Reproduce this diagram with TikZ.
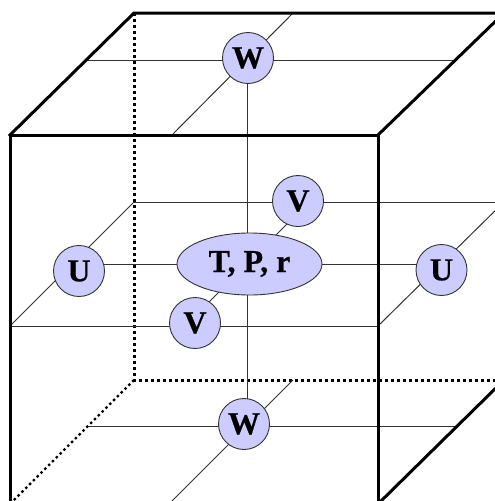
\documentclass[tikz,border=0pt]{standalone}
\usepackage{fontspec}
\setmainfont{Liberation Serif}
\newfontfamily\heavyserif[FakeBold=0.6]{Liberation Serif}
\usetikzlibrary{shapes.geometric}
\definecolor{nodefill}{HTML}{CCCCFF}
\definecolor{edgegray}{HTML}{333333}
\begin{document}
\begin{tikzpicture}[x=1pt,y=-1pt,
  thickedge/.style={line width=3pt,line cap=rect},
  dotedge/.style={line width=3pt,dash pattern=on 3pt off 3pt},
  dotdiag/.style={line width=2.4pt,dash pattern=on 2.4pt off 3pt},
  gridline/.style={line width=1pt,draw=edgegray},
  varnode/.style={circle,draw=edgegray,line width=0.9pt,fill=nodefill,minimum size=51pt,inner sep=0pt,
    font=\heavyserif\fontsize{32}{36}\selectfont\bfseries},
  statenode/.style={ellipse,draw=edgegray,line width=0.9pt,fill=nodefill,minimum width=145pt,minimum height=62pt,inner sep=0pt,
    font=\heavyserif\fontsize{32}{36}\selectfont\bfseries}]
\useasboundingbox (0,0) rectangle (495,501);
\clip (0,0) rectangle (495,501);
% cube corners
\coordinate (FTL) at (10,135);  \coordinate (FTR) at (378,135);
\coordinate (FBL) at (10,504);  \coordinate (FBR) at (378,504);
\coordinate (BTL) at (134,13);  \coordinate (BTR) at (504,13);
\coordinate (BBL) at (134,380); \coordinate (BBR) at (504,380);
% grid coordinates
\coordinate (tl) at (86,60);   \coordinate (tr) at (454,60);
\coordinate (tf) at (172,135); \coordinate (tb) at (293,13);
\coordinate (vt) at (247,58);  \coordinate (vb) at (247,424);
\coordinate (mbl) at (134,202); \coordinate (mbr) at (504,202);
\coordinate (mfl) at (10,326);  \coordinate (mfr) at (378,326);
\coordinate (mhl) at (79,264);  \coordinate (mhr) at (441,264);
\coordinate (mdf) at (195,316); \coordinate (mdb) at (298,213);
\coordinate (bl) at (88,426);   \coordinate (br) at (456,426);
\coordinate (bf) at (170,503);  \coordinate (bb) at (293,380);
% hidden edges
\draw[dotedge] (BTL) -- (BBL) -- (BBR);
\draw[dotdiag] (BBL) -- (FBL);
% grid lines
\draw[gridline] (tl) -- (tr);
\draw[gridline] (tf) -- (tb);
\draw[gridline] (vt) -- (vb);
\draw[gridline] (mbl) -- (mbr);
\draw[gridline] (mfl) -- (mfr);
\draw[gridline] (mfl) -- (mbl);
\draw[gridline] (mfr) -- (mbr);
\draw[gridline] (mhl) -- (mhr);
\draw[gridline] (mdf) -- (mdb);
\draw[gridline] (bl) -- (br);
\draw[gridline] (bf) -- (bb);
% visible edges
\draw[thickedge] (FBL) -- (FTL) -- (FTR) -- (FBR);
\draw[thickedge] (FTL) -- (BTL) -- (BTR);
\draw[thickedge] (FTR) -- (BTR);
\draw[thickedge] (FBR) -- (BBR);
% nodes
\node[varnode] (Wt) at (248,58) {W};
\node[varnode] (Wb) at (244,424) {W};
\node[varnode] (Ul) at (79,271) {U};
\node[varnode] (Ur) at (441.5,270) {U};
\node[varnode] (Vu) at (298,201) {V};
\node[varnode] (Vl) at (195,323) {V};
\node[statenode] (S) at (249.5,264) {T, P, r};
\end{tikzpicture}
\end{document}
